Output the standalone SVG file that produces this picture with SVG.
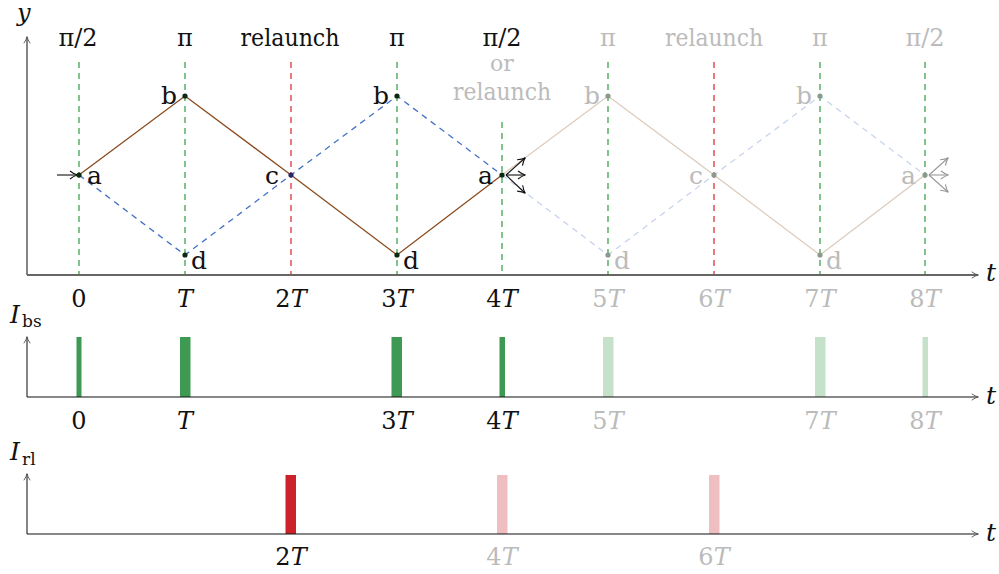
<svg xmlns="http://www.w3.org/2000/svg" width="999" height="574" viewBox="0 0 999 574" font-family="'DejaVu Serif','Liberation Serif','Times New Roman',serif">
<defs>
<marker id="ah" viewBox="0 0 10 10" refX="9" refY="5" markerWidth="10" markerHeight="10" markerUnits="userSpaceOnUse" orient="auto">
<path d="M2,1 Q6,4.2 9.5,5 Q6,5.8 2,9" fill="none" stroke="#111" stroke-width="1.1"/>
</marker>
<marker id="ahg" viewBox="0 0 10 10" refX="9" refY="5" markerWidth="10" markerHeight="10" markerUnits="userSpaceOnUse" orient="auto">
<path d="M2,1 Q6,4.2 9.5,5 Q6,5.8 2,9" fill="none" stroke="#999" stroke-width="1.1"/>
</marker>
<marker id="aha" viewBox="0 0 10 10" refX="9" refY="5" markerWidth="9" markerHeight="9" markerUnits="userSpaceOnUse" orient="auto">
<path d="M2,1.5 Q6,4.3 9.5,5 Q6,5.7 2,8.5" fill="none" stroke="#555" stroke-width="1"/>
</marker>
</defs>
<style>
text{font-family:'DejaVu Serif','Liberation Serif','Times New Roman',serif;}
.lab{font-size:24px;text-anchor:middle;fill:#111;}
.labg{font-size:24px;text-anchor:middle;fill:#bbb;}
.pt{font-size:25px;fill:#111;}
.ptg{font-size:25px;fill:#bbb;}
.it{font-style:italic;}
.axy{stroke:#666;stroke-width:1.6;fill:none;marker-end:url(#aha);}
.axx{stroke:#111;stroke-width:1.2;fill:none;marker-end:url(#aha);}
.axx1{stroke:#666;stroke-width:1.8;fill:none;marker-end:url(#aha);}
.vg{stroke:#3fa34d;stroke-width:1.3;stroke-dasharray:6,5;}
.vr{stroke:#e0323a;stroke-width:1.3;stroke-dasharray:6,5;}
.br{stroke:#8a4a1e;stroke-width:1.3;fill:none;}
.brf{stroke:#dccbbd;stroke-width:1.3;fill:none;}
.bl{stroke:#4472c4;stroke-width:1.3;fill:none;stroke-dasharray:6,5;}
.blf{stroke:#c9d5ee;stroke-width:1.3;fill:none;stroke-dasharray:6,5;}
.dot{fill:#0b2a10;}
.dotg{fill:#8a9a8c;}
.gb{fill:#3e9a52;}
.gbf{fill:#c5e1ca;}
.rb{fill:#cc2229;}
.rbf{fill:#efbec1;}
.arr{stroke:#111;stroke-width:1.1;marker-end:url(#ah);}
.arrg{stroke:#999;stroke-width:1.1;marker-end:url(#ahg);}
</style>

<g id="top-panel">
<g id="guides">
<line class="vg" x1="79" y1="62" x2="79" y2="275"/>
<line class="vg" x1="185" y1="62" x2="185" y2="275"/>
<line class="vr" x1="291" y1="62" x2="291" y2="275"/>
<line class="vg" x1="397" y1="62" x2="397" y2="275"/>
<line class="vg" x1="502" y1="122" x2="502" y2="275"/>
<line class="vg" x1="608" y1="62" x2="608" y2="275"/>
<line class="vr" x1="714" y1="62" x2="714" y2="275"/>
<line class="vg" x1="820" y1="62" x2="820" y2="275"/>
<line class="vg" x1="925" y1="62" x2="925" y2="275"/>
</g>
<g id="connectors">
<polyline class="brf" points="502,175 608,96 714,175 820,255 925,175"/>
<polyline class="blf" points="502,175 608,255 714,175 820,96 925,175"/>
<polyline class="br" points="79,175 185,96 291,175 397,255 502,175"/>
<polyline class="bl" points="79,175 185,255 291,175 397,96 502,175"/>
<line class="arr" x1="57" y1="175" x2="77" y2="175"/>
<line class="arr" x1="506" y1="175" x2="525" y2="158"/>
<line class="arr" x1="506" y1="175" x2="525" y2="175"/>
<line class="arr" x1="506" y1="175" x2="525" y2="193"/>
<line class="arrg" x1="929" y1="175" x2="948" y2="158"/>
<line class="arrg" x1="929" y1="175" x2="948" y2="175"/>
<line class="arrg" x1="929" y1="175" x2="948" y2="192"/>
</g>
<g id="axes-top">
<line class="axy" x1="27" y1="275" x2="27" y2="37"/>
<line class="axx1" x1="27" y1="275" x2="978" y2="275"/>
<text x="17" y="21" font-size="24" class="it" fill="#111">y</text>
<text x="986" y="281" font-size="25" class="it" fill="#111">t</text>
</g>
<g id="node-a0"><circle class="dot" cx="79" cy="175" r="2.6"/><text class="pt" x="87" y="184">a</text></g>
<g id="node-b1"><circle class="dot" cx="185" cy="96" r="2.6"/><text class="pt" x="161" y="104">b</text></g>
<g id="node-d1"><circle class="dot" cx="185" cy="255" r="2.6"/><text class="pt" x="191" y="269">d</text></g>
<g id="node-c2"><circle cx="291" cy="175" r="2.6" fill="#2a2a6a"/><text class="pt" x="265" y="184">c</text></g>
<g id="node-b3"><circle class="dot" cx="397" cy="96" r="2.6"/><text class="pt" x="373" y="104">b</text></g>
<g id="node-d3"><circle class="dot" cx="397" cy="255" r="2.6"/><text class="pt" x="403" y="269">d</text></g>
<g id="node-a4"><circle class="dot" cx="502" cy="175" r="2.6"/><text class="pt" x="478" y="184">a</text></g>
<g id="node-b5"><circle class="dotg" cx="608" cy="96" r="2.6"/><text class="ptg" x="584" y="104">b</text></g>
<g id="node-d5"><circle class="dotg" cx="608" cy="255" r="2.6"/><text class="ptg" x="614" y="269">d</text></g>
<g id="node-c6"><circle class="dotg" cx="714" cy="175" r="2.6"/><text class="ptg" x="689" y="184">c</text></g>
<g id="node-b7"><circle class="dotg" cx="820" cy="96" r="2.6"/><text class="ptg" x="796" y="104">b</text></g>
<g id="node-d7"><circle class="dotg" cx="820" cy="255" r="2.6"/><text class="ptg" x="826" y="269">d</text></g>
<g id="node-a8"><circle class="dotg" cx="925" cy="175" r="2.6"/><text class="ptg" x="901" y="184">a</text></g>
<g id="top-labels">
<text class="lab" x="78" y="46">π/2</text>
<text class="lab" x="185" y="46">π</text>
<text class="lab" x="290" y="46" textLength="99" lengthAdjust="spacingAndGlyphs">relaunch</text>
<text class="lab" x="397" y="46">π</text>
<text class="lab" x="502" y="46">π/2</text>
<text class="labg" x="502" y="71" style="font-size:22px">or</text>
<text class="labg" x="502" y="100" textLength="98" lengthAdjust="spacingAndGlyphs">relaunch</text>
<text class="labg" x="608" y="46">π</text>
<text class="labg" x="714" y="46" textLength="98" lengthAdjust="spacingAndGlyphs">relaunch</text>
<text class="labg" x="820" y="46">π</text>
<text class="labg" x="925" y="46">π/2</text>
</g>
<g id="ticks-top">
<text class="lab" x="79" y="307">0</text>
<text class="lab it" x="185" y="307">T</text>
<text class="lab" x="291" y="307">2<tspan class="it">T</tspan></text>
<text class="lab" x="397" y="307">3<tspan class="it">T</tspan></text>
<text class="lab" x="502" y="307">4<tspan class="it">T</tspan></text>
<text class="labg" x="608" y="307">5<tspan class="it">T</tspan></text>
<text class="labg" x="714" y="307">6<tspan class="it">T</tspan></text>
<text class="labg" x="820" y="307">7<tspan class="it">T</tspan></text>
<text class="labg" x="925" y="307">8<tspan class="it">T</tspan></text>
</g>
</g>

<g id="bs-panel">
<rect class="gb" x="76.5" y="337" width="5" height="60"/>
<rect class="gb" x="180" y="337" width="10.5" height="60"/>
<rect class="gb" x="391.5" y="337" width="10.5" height="60"/>
<rect class="gb" x="499.5" y="337" width="5.5" height="60"/>
<rect class="gbf" x="603" y="337" width="10.5" height="60"/>
<rect class="gbf" x="815" y="337" width="10.5" height="60"/>
<rect class="gbf" x="922.5" y="337" width="5.5" height="60"/>
<line class="axy" x1="27" y1="397" x2="27" y2="337"/>
<line class="axx" x1="27" y1="397" x2="978" y2="397"/>
<text x="10" y="323" font-size="25" class="it" fill="#111">I</text>
<text x="22" y="327" font-size="17" fill="#111">bs</text>
<text x="986" y="404" font-size="25" class="it" fill="#111">t</text>
<text class="lab" x="79" y="429">0</text>
<text class="lab it" x="185" y="429">T</text>
<text class="lab" x="397" y="429">3<tspan class="it">T</tspan></text>
<text class="lab" x="502" y="429">4<tspan class="it">T</tspan></text>
<text class="labg" x="608" y="429">5<tspan class="it">T</tspan></text>
<text class="labg" x="820" y="429">7<tspan class="it">T</tspan></text>
<text class="labg" x="925" y="429">8<tspan class="it">T</tspan></text>
</g>

<g id="rl-panel">
<rect class="rb" x="285.5" y="475" width="10.5" height="59"/>
<rect class="rbf" x="497" y="475" width="10.5" height="59"/>
<rect class="rbf" x="709" y="475" width="10.5" height="59"/>
<line class="axy" x1="27" y1="534" x2="27" y2="474"/>
<line class="axx" x1="27" y1="534" x2="978" y2="534"/>
<text x="10" y="460" font-size="25" class="it" fill="#111">I</text>
<text x="22" y="465" font-size="17" fill="#111">rl</text>
<text x="986" y="541" font-size="25" class="it" fill="#111">t</text>
<text class="lab" x="291" y="565">2<tspan class="it">T</tspan></text>
<text class="labg" x="502" y="565">4<tspan class="it">T</tspan></text>
<text class="labg" x="714" y="565">6<tspan class="it">T</tspan></text>
</g>
</svg>
